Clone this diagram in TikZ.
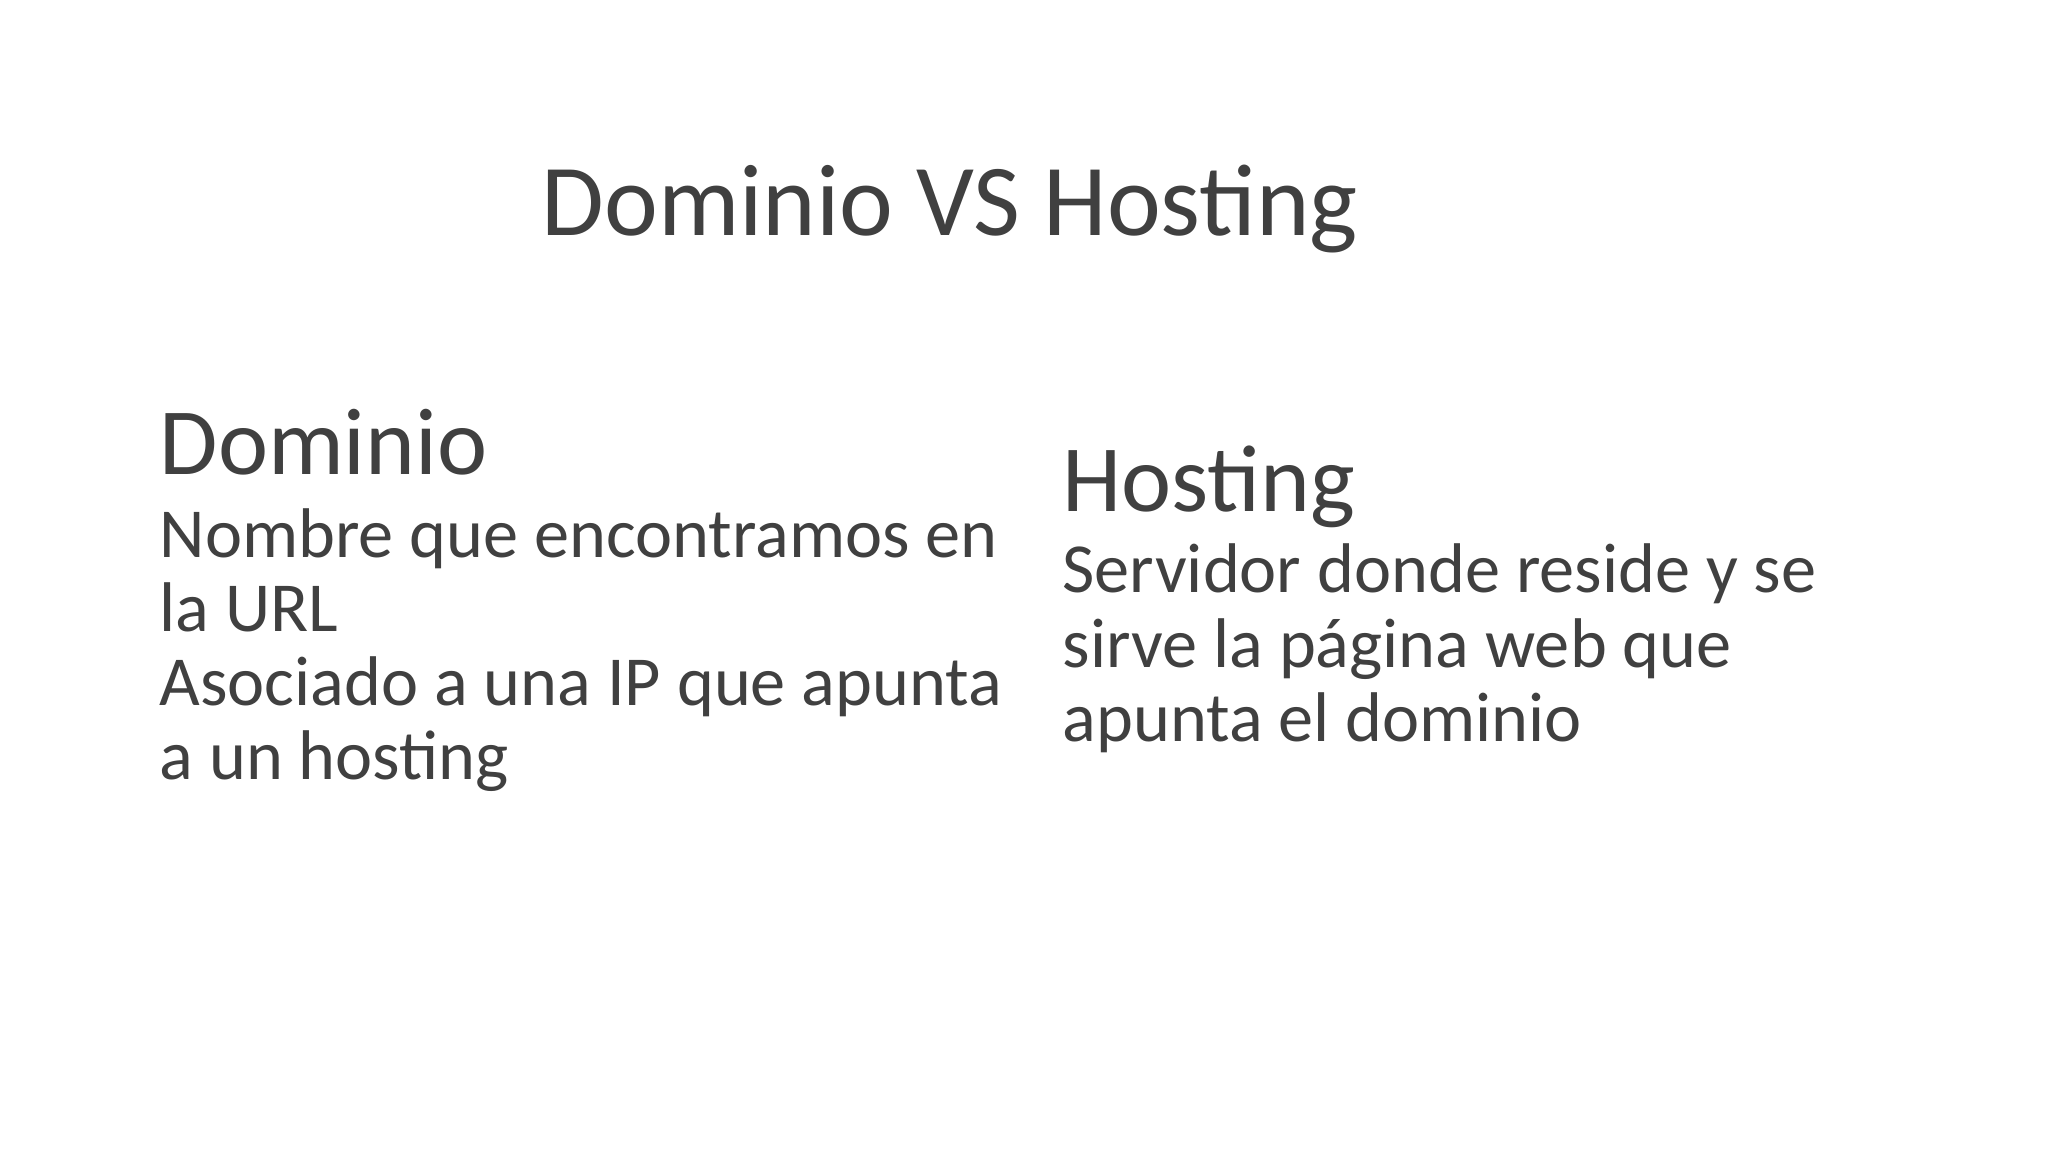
\documentclass[tikz,border=0pt]{standalone}
\usepackage{fontspec}
\setmainfont{Carlito}
\definecolor{txt}{HTML}{404040}
\tikzset{
  ttl/.style={text=txt,font=\fontsize{29}{35}\selectfont,anchor=base,inner sep=0pt},
  head/.style={text=txt,font=\fontsize{27}{32}\selectfont,anchor=base west,inner sep=0pt},
  body/.style={text=txt,font=\fontsize{20}{24}\selectfont,anchor=base west,inner sep=0pt}
}
\begin{document}
\begin{tikzpicture}
\useasboundingbox (0,0) rectangle (20.48,11.52);
\node[ttl] (t) at (9.5,9.16) {Dominio VS Hosting};
\node[head] (d) at (1.59,6.77) {Dominio};
\node[body] (d1) at (1.59,5.94) {Nombre que encontramos en};
\node[body] (d2) at (1.59,5.20) {la URL};
\node[body] (d3) at (1.59,4.46) {Asociado a una IP que apunta};
\node[body] (d4) at (1.59,3.72) {a un hosting};
\node[head] (h) at (10.62,6.40) {Hosting};
\node[body] (h1) at (10.62,5.59) {Servidor donde reside y se};
\node[body] (h2) at (10.62,4.84) {sirve la página web que};
\node[body] (h3) at (10.62,4.10) {apunta el dominio};
\end{tikzpicture}
\end{document}
